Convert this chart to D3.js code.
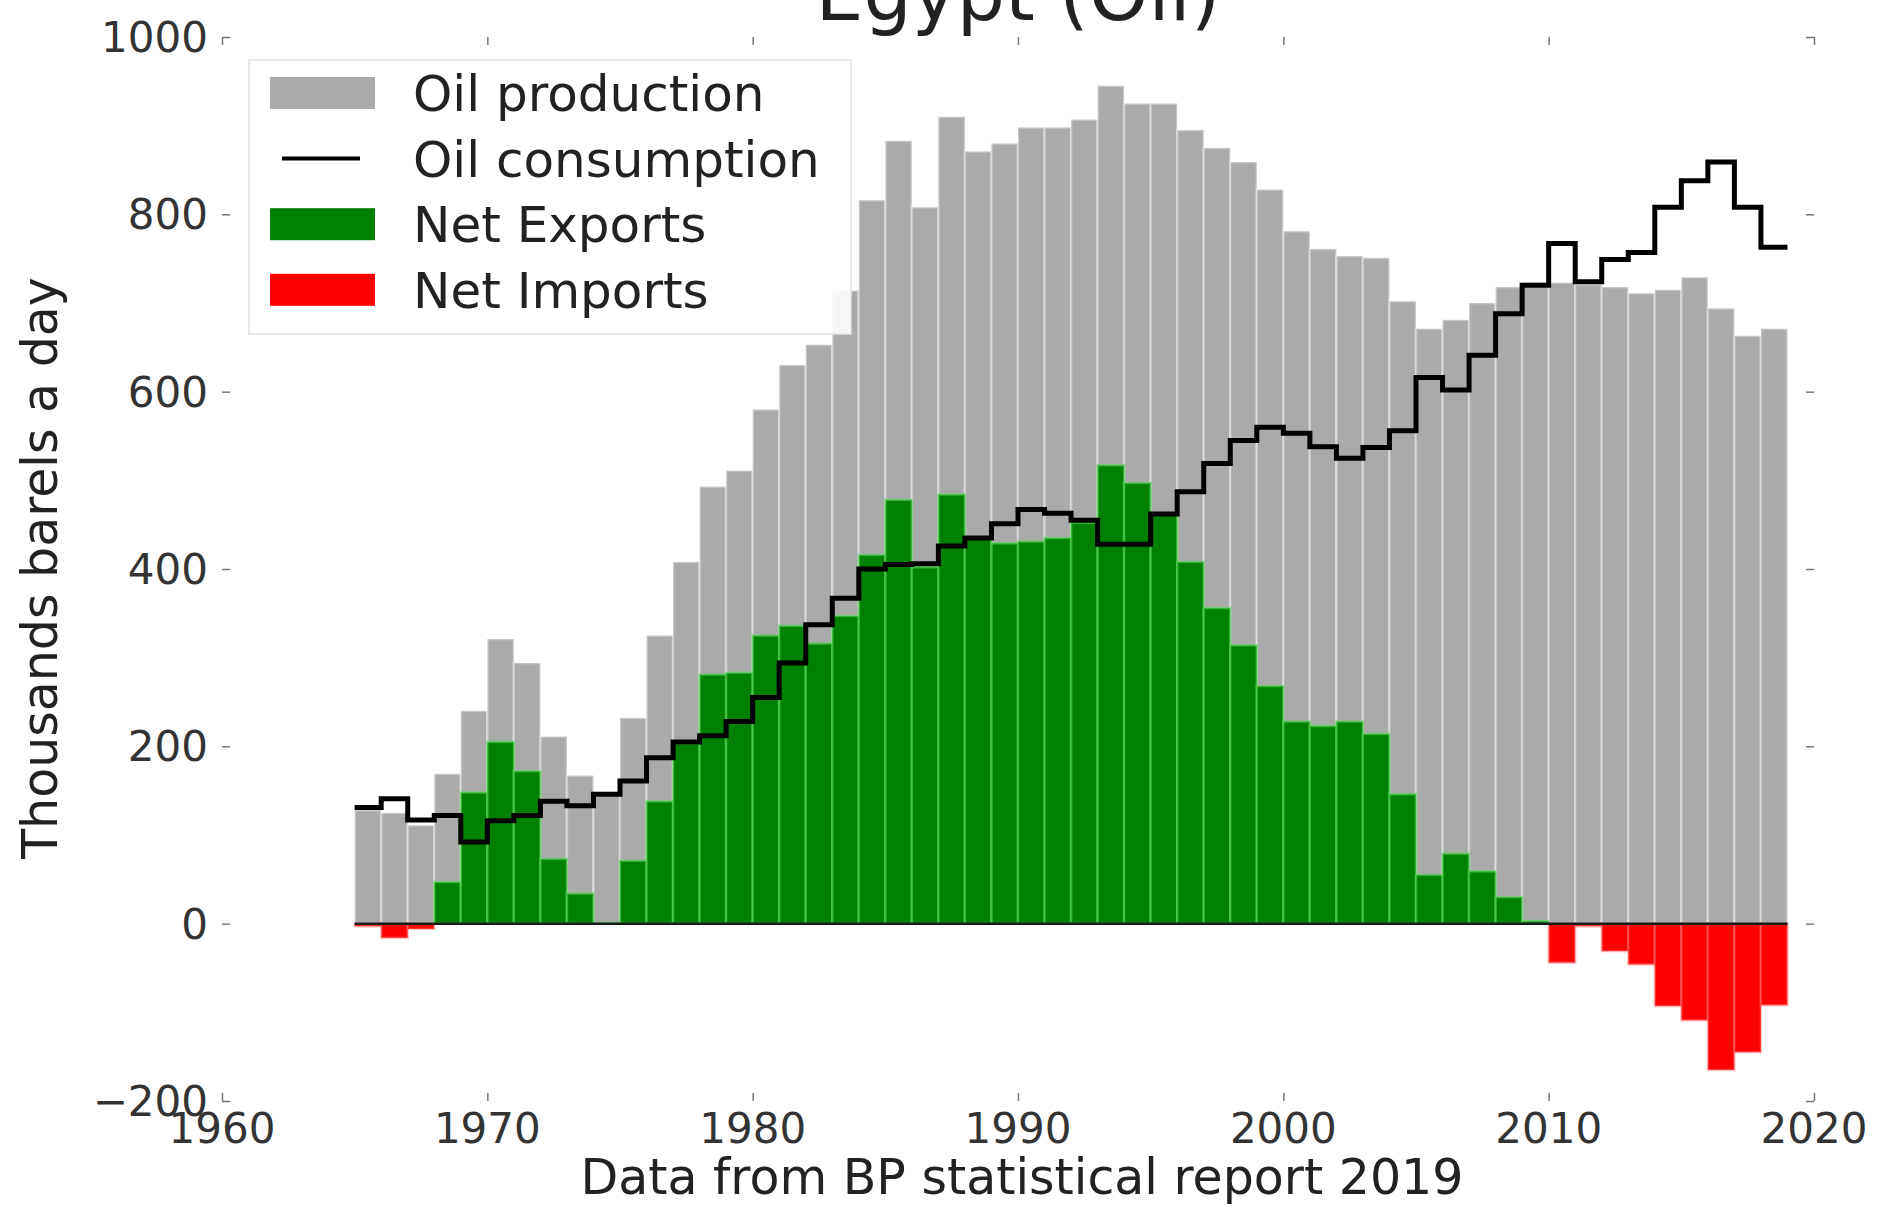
<!DOCTYPE html>
<html>
<head>
<meta charset="utf-8">
<script src="https://cdn.jsdelivr.net/npm/d3@7"></script>
<style>
  html, body { margin: 0; padding: 0; background: #fff; }
  svg { display: block; font-family: "DejaVu Sans", sans-serif; }
</style>
</head>
<body>
<svg id="chart" width="1878" height="1206"></svg>
<script>
// ---- data (thousand barrels a day) ----
const years = d3.range(1965, 2019);
const production = [
  128, 125, 111, 169, 240, 321, 294, 211, 167, 147,
  232, 325, 408, 493, 511, 580, 630, 653, 714, 816,
  883, 808, 910, 871, 880, 898, 898, 907, 945, 925,
  925, 895, 875, 859, 828, 781, 761, 753, 751, 702,
  671, 681, 700, 718, 723, 723, 721, 718, 711, 715,
  729, 694, 663, 671
];
const consumption = [
  131, 141, 117, 122, 92, 116, 122, 138, 133, 146,
  161, 187, 205, 212, 228, 255, 294, 337, 367, 400,
  405, 406, 426, 435, 451, 467, 463, 455, 428, 428,
  462, 487, 519, 545, 560, 553, 538, 525, 537, 556,
  616, 602, 641, 688, 720, 767, 724, 749, 757, 808,
  838, 859, 808, 763
];
const xTicks = [1960, 1970, 1980, 1990, 2000, 2010, 2020];
const yTicks = [-200, 0, 200, 400, 600, 800, 1000];
const legendLabels = ["Oil production", "Oil consumption", "Net Exports", "Net Imports"];
const titleText = "Egypt (Oil)";
const yTitle = "Thousands barels a day";
const xTitle = "Data from BP statistical report 2019";

// ---- layout ----
const svg = d3.select("#chart");
const x = d3.scaleLinear().domain([1960, 2020]).range([222, 1814]);
const y = d3.scaleLinear().domain([-200, 1000]).range([1101, 37]);
const font = "DejaVu Sans";

const rows = years.map((yr, i) => ({
  year: yr, prod: production[i], cons: consumption[i], net: production[i] - consumption[i]
}));

// production bars
svg.append("g").selectAll("rect").data(rows).join("rect")
  .attr("x", d => x(d.year))
  .attr("width", d => x(d.year + 1) - x(d.year))
  .attr("y", d => y(d.prod))
  .attr("height", d => y(0) - y(d.prod))
  .attr("fill", "#aaaaaa")
  .attr("stroke", "rgba(255,255,255,0.35)")
  .attr("stroke-width", 2.5);

// net exports / imports
svg.append("g").selectAll("rect").data(rows).join("rect")
  .attr("x", d => x(d.year))
  .attr("width", d => x(d.year + 1) - x(d.year))
  .attr("y", d => d.net >= 0 ? y(d.net) : y(0))
  .attr("height", d => Math.abs(y(d.net) - y(0)))
  .attr("fill", d => d.net >= 0 ? "#008000" : "#ff0000")
  .attr("stroke", d => d.net >= 0 ? "rgba(90,220,90,0.55)" : "rgba(255,120,120,0.4)")
  .attr("stroke-width", 2.5);

// zero line
svg.append("line")
  .attr("x1", x(1965)).attr("x2", x(2019))
  .attr("y1", y(0)).attr("y2", y(0))
  .attr("stroke", "#1a1a1a").attr("stroke-width", 2.5);

// consumption step line
const linePts = rows.map(d => [d.year, d.cons]);
linePts.push([2019, consumption[consumption.length - 1]]);
svg.append("path")
  .datum(linePts)
  .attr("fill", "none")
  .attr("stroke", "#000")
  .attr("stroke-width", 5)
  .attr("d", d3.line().x(d => x(d[0])).y(d => y(d[1])).curve(d3.curveStepAfter));

// ---- axes (no spines, inward ticks on all sides) ----
const tickLen = 8;
const tickColor = "#777";
const axL = svg.append("g").attr("transform", `translate(${x(1960)},0)`)
  .call(d3.axisRight(y).tickValues(yTicks).tickSize(tickLen).tickFormat(""));
const axR = svg.append("g").attr("transform", `translate(${x(2020)},0)`)
  .call(d3.axisLeft(y).tickValues(yTicks).tickSize(tickLen).tickFormat(""));
const axT = svg.append("g").attr("transform", `translate(0,${y(1000)})`)
  .call(d3.axisBottom(x).tickValues(xTicks).tickSize(tickLen).tickFormat(""));
const axB = svg.append("g").attr("transform", `translate(0,${y(-200)})`)
  .call(d3.axisTop(x).tickValues(xTicks).tickSize(tickLen).tickFormat(""));
[axL, axR, axT, axB].forEach(a => {
  a.select(".domain").remove();
  a.selectAll(".tick line").attr("stroke", tickColor).attr("stroke-width", 1.5);
});

// tick labels
svg.append("g").selectAll("text").data(yTicks).join("text")
  .attr("x", 208).attr("y", d => y(d))
  .attr("dy", "0.36em")
  .attr("text-anchor", "end")
  .attr("font-family", font).attr("font-size", 42).attr("fill", "#333")
  .text(d => d < 0 ? "\u2212" + Math.abs(d) : d);
svg.append("g").selectAll("text").data(xTicks).join("text")
  .attr("x", d => x(d)).attr("y", 1143)
  .attr("text-anchor", "middle")
  .attr("font-family", font).attr("font-size", 42).attr("fill", "#333")
  .text(d => d);

// titles
svg.append("text")
  .attr("x", 1018).attr("y", 20)
  .attr("text-anchor", "middle")
  .attr("font-family", font).attr("font-size", 76).attr("fill", "#222")
  .text(titleText);
svg.append("text")
  .attr("transform", `translate(57,568) rotate(-90)`)
  .attr("text-anchor", "middle")
  .attr("font-family", font).attr("font-size", 49).attr("fill", "#222")
  .text(yTitle);
svg.append("text")
  .attr("x", 1022).attr("y", 1194)
  .attr("text-anchor", "middle")
  .attr("font-family", font).attr("font-size", 49).attr("fill", "#222")
  .text(xTitle);

// ---- legend ----
const lg = svg.append("g");
lg.append("rect")
  .attr("x", 249).attr("y", 60).attr("width", 602).attr("height", 274)
  .attr("fill", "#fff").attr("fill-opacity", 0.9)
  .attr("stroke", "#e2e2e2").attr("stroke-width", 1.5);
const legendStyles = [
  { type: "rect", color: "#aaaaaa" },
  { type: "line", color: "#000" },
  { type: "rect", color: "#008000" },
  { type: "rect", color: "#ff0000" }
];
legendLabels.forEach((lab, i) => {
  const cy = 93 + i * 65.6;
  const st = legendStyles[i];
  if (st.type === "rect") {
    lg.append("rect").attr("x", 270).attr("y", cy - 16).attr("width", 105).attr("height", 32)
      .attr("fill", st.color);
  } else {
    lg.append("line").attr("x1", 282).attr("x2", 360).attr("y1", cy).attr("y2", cy)
      .attr("stroke", st.color).attr("stroke-width", 4);
  }
  lg.append("text")
    .attr("x", 413).attr("y", cy).attr("dy", "0.36em")
    .attr("font-family", font).attr("font-size", 50).attr("fill", "#222")
    .text(lab);
});
</script>
</body>
</html>
